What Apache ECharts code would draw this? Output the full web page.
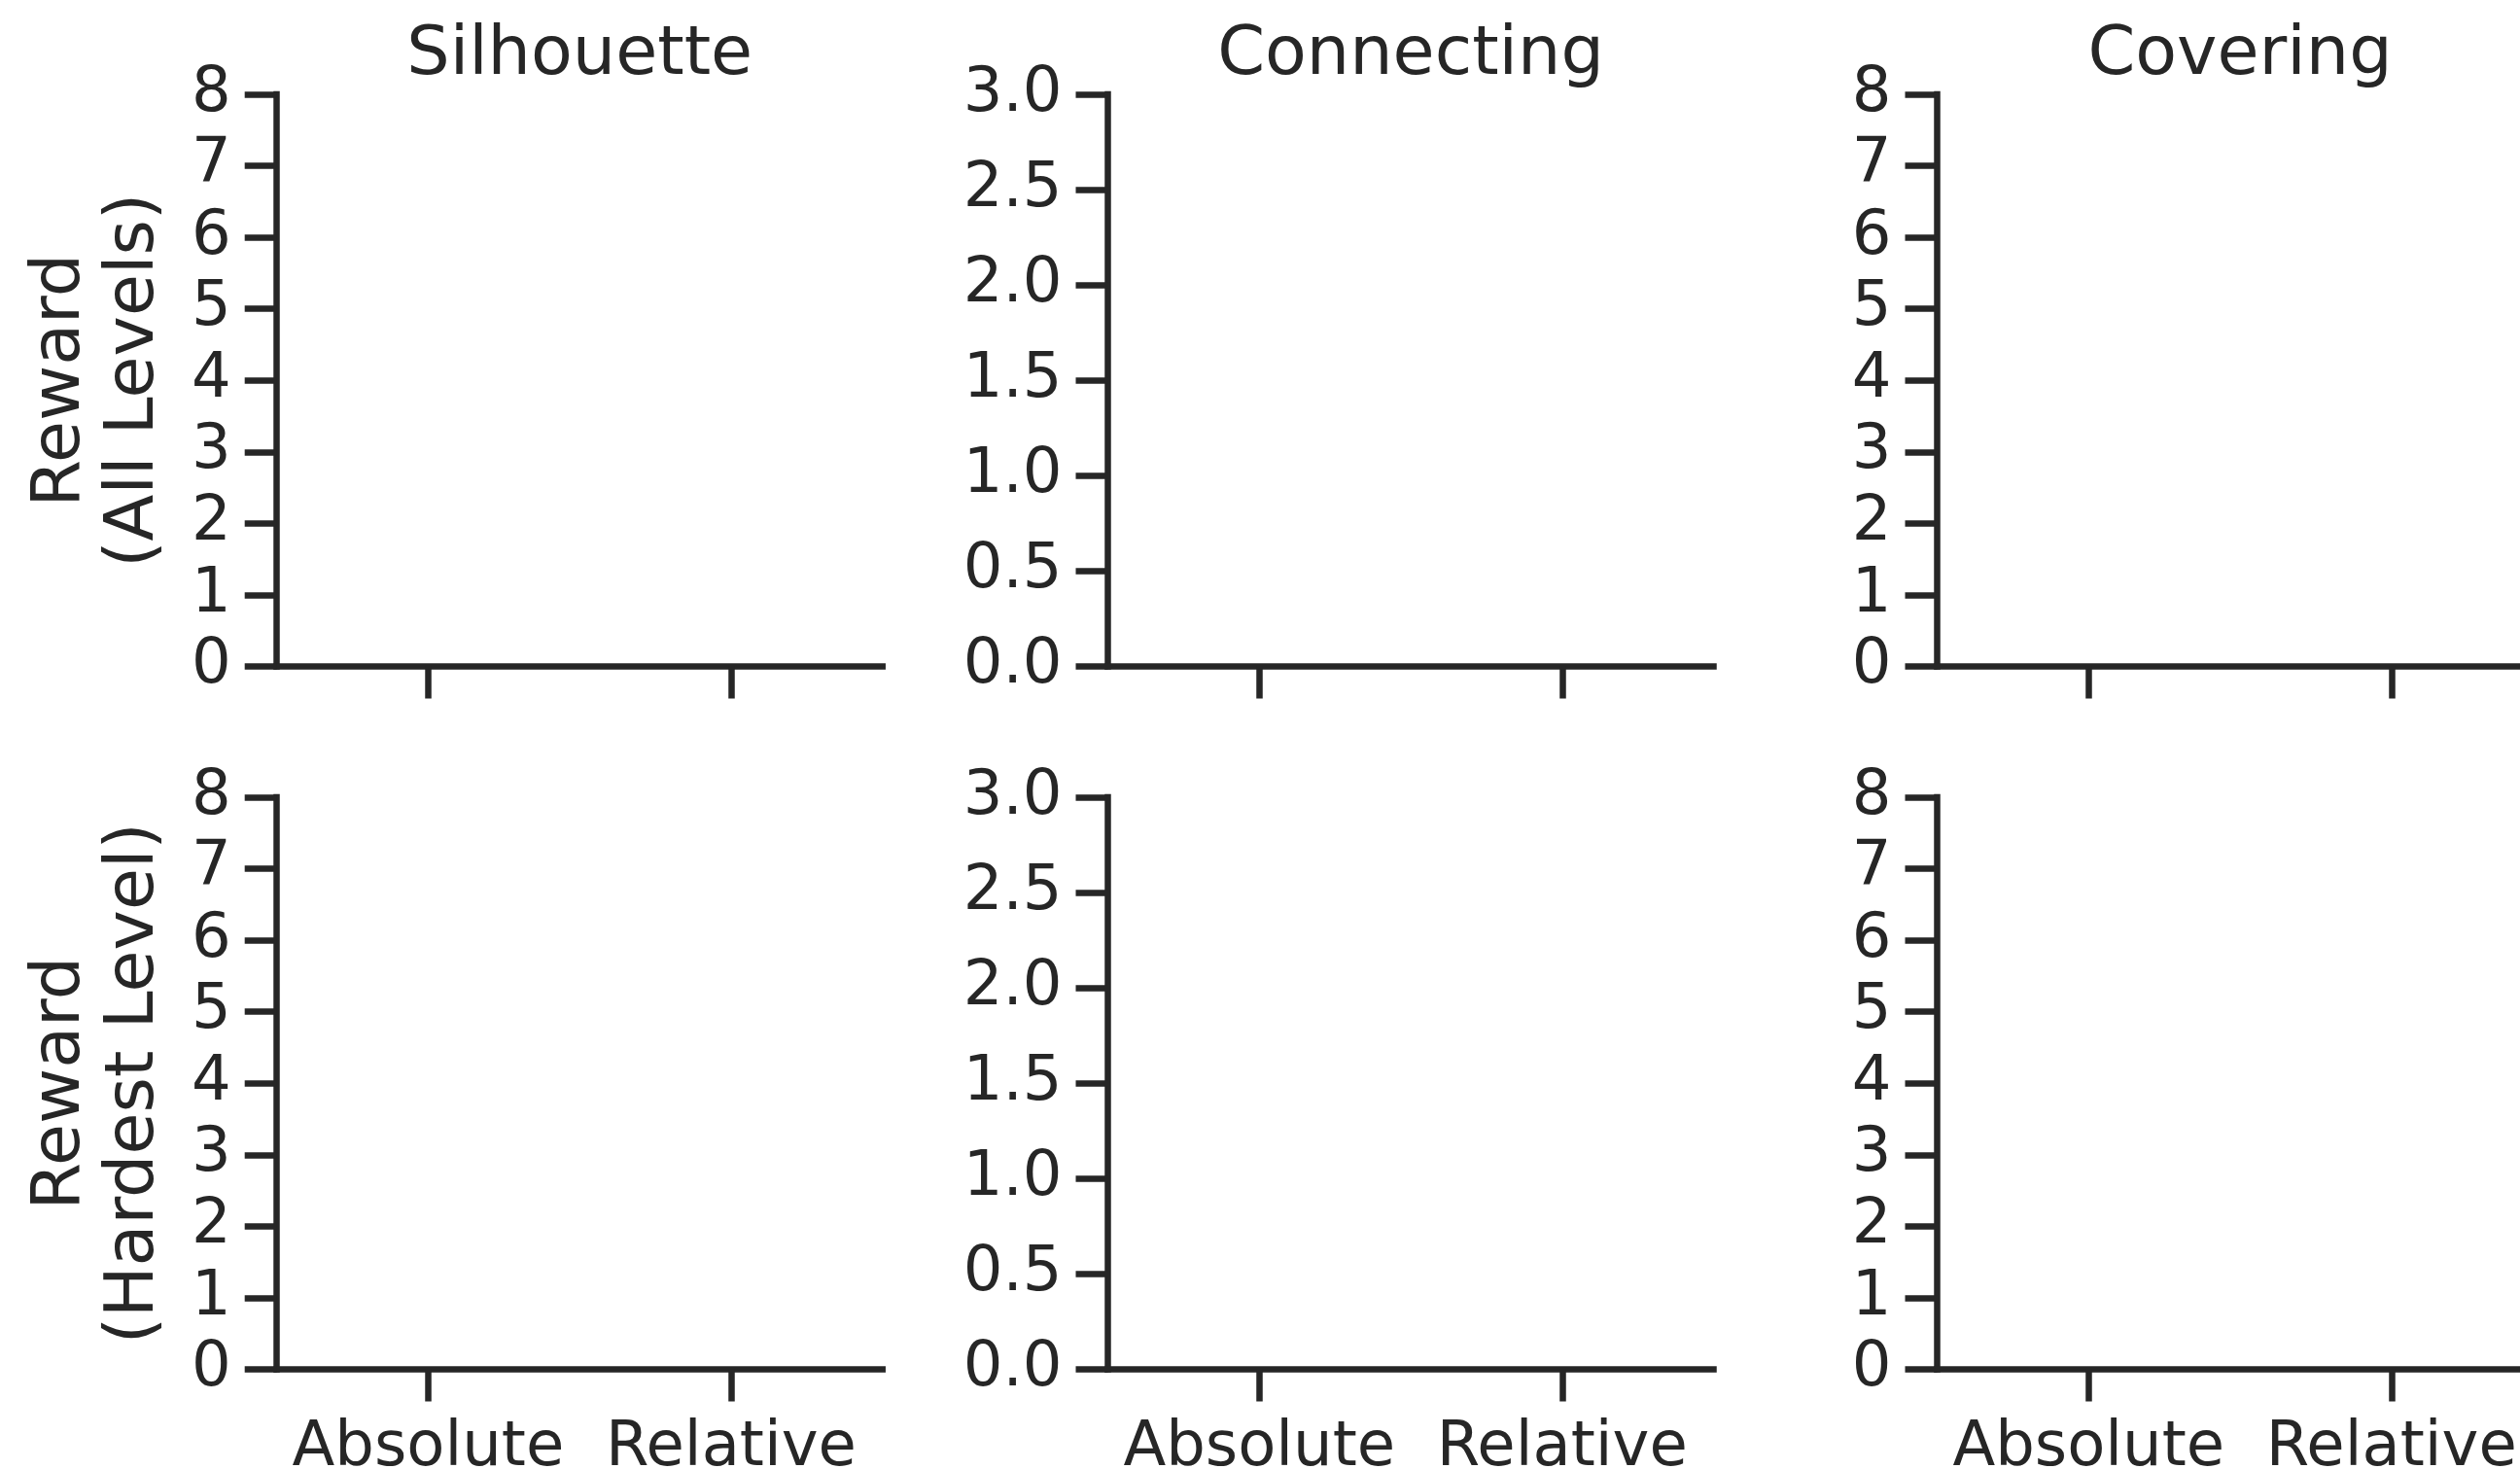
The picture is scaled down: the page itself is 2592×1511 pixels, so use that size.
<!DOCTYPE html>
<html>
<head>
<meta charset="utf-8">
<title>Reward by reward type</title>
<script src="https://cdn.jsdelivr.net/npm/echarts@6/dist/echarts.min.js"></script>
<style>
  html, body { margin: 0; padding: 0; background: #ffffff; }
  #chart { width: 2592px; height: 1511px; }
</style>
</head>
<body>
<div id="chart"></div>
<script>
// Reward-type categories on every x axis
const categories = ['Absolute', 'Relative'];
// Task columns
const panelTitles = ['Silhouette', 'Connecting', 'Covering'];
// Row y-axis names
const rowLabels = ['Reward\n(All Levels)', 'Reward\n(Hardest Level)'];
// Y range per task column
const yMax = [8, 3, 8];
const yInterval = [1, 0.5, 1];
const yDecimals = [0, 1, 0];
// Mean rewards per panel (row-major: all levels, then hardest level); none recorded
const rewardsAllLevels = [[], [], []];
const rewardsHardestLevel = [[], [], []];

const INK = '#262626';
const FONT = 'DejaVu Sans';
const colLeft = [284.7, 1139.5, 1992.5];
const rowTop = [97, 820];
const gridW = 623;
const gridH = 588.5;
const lineW = 6.5;

const grids = [], xAxes = [], yAxes = [], series = [], titles = [];
const rowData = [rewardsAllLevels, rewardsHardestLevel];

for (let r = 0; r < 2; r++) {
  for (let c = 0; c < 3; c++) {
    const idx = grids.length;
    grids.push({
      left: colLeft[c], top: rowTop[r], width: gridW, height: gridH,
      containLabel: false, outerBoundsMode: 'none'
    });
    xAxes.push({
      type: 'category',
      gridIndex: idx,
      data: categories,
      boundaryGap: true,
      axisLine: { show: true, lineStyle: { color: INK, width: lineW, cap: 'square' } },
      axisTick: { show: true, alignWithLabel: true, length: 33, lineStyle: { color: INK, width: lineW } },
      axisLabel: {
        show: r === 1,
        color: INK, fontFamily: FONT, fontSize: 64, margin: 50, interval: 0
      },
      splitLine: { show: false }
    });
    yAxes.push({
      type: 'value',
      gridIndex: idx,
      min: 0,
      max: yMax[c],
      interval: yInterval[c],
      name: c === 0 ? rowLabels[r] : '',
      nameLocation: 'middle',
      nameRotate: 90,
      nameGap: 108,
      nameTextStyle: { color: INK, fontFamily: FONT, fontSize: 70, lineHeight: 76 },
      axisLine: { show: true, lineStyle: { color: INK, width: lineW, cap: 'square' } },
      axisTick: { show: true, length: 33, lineStyle: { color: INK, width: lineW } },
      axisLabel: {
        color: INK, fontFamily: FONT, fontSize: 64, margin: 47,
        formatter: v => v.toFixed(yDecimals[c])
      },
      splitLine: { show: false }
    });
    series.push({
      type: 'bar',
      xAxisIndex: idx,
      yAxisIndex: idx,
      data: rowData[r][c],
      silent: true
    });
    if (r === 0) {
      titles.push({
        text: panelTitles[c],
        left: colLeft[c] + gridW / 2,
        top: 23,
        textAlign: 'center',
        padding: 0,
        textStyle: { color: INK, fontFamily: FONT, fontSize: 70, fontWeight: 'normal', lineHeight: 70 }
      });
    }
  }
}

const chart = echarts.init(document.getElementById('chart'), null, { renderer: 'canvas' });
chart.setOption({
  backgroundColor: '#ffffff',
  animation: false,
  title: titles,
  grid: grids,
  xAxis: xAxes,
  yAxis: yAxes,
  series: series
});
</script>
</body>
</html>
